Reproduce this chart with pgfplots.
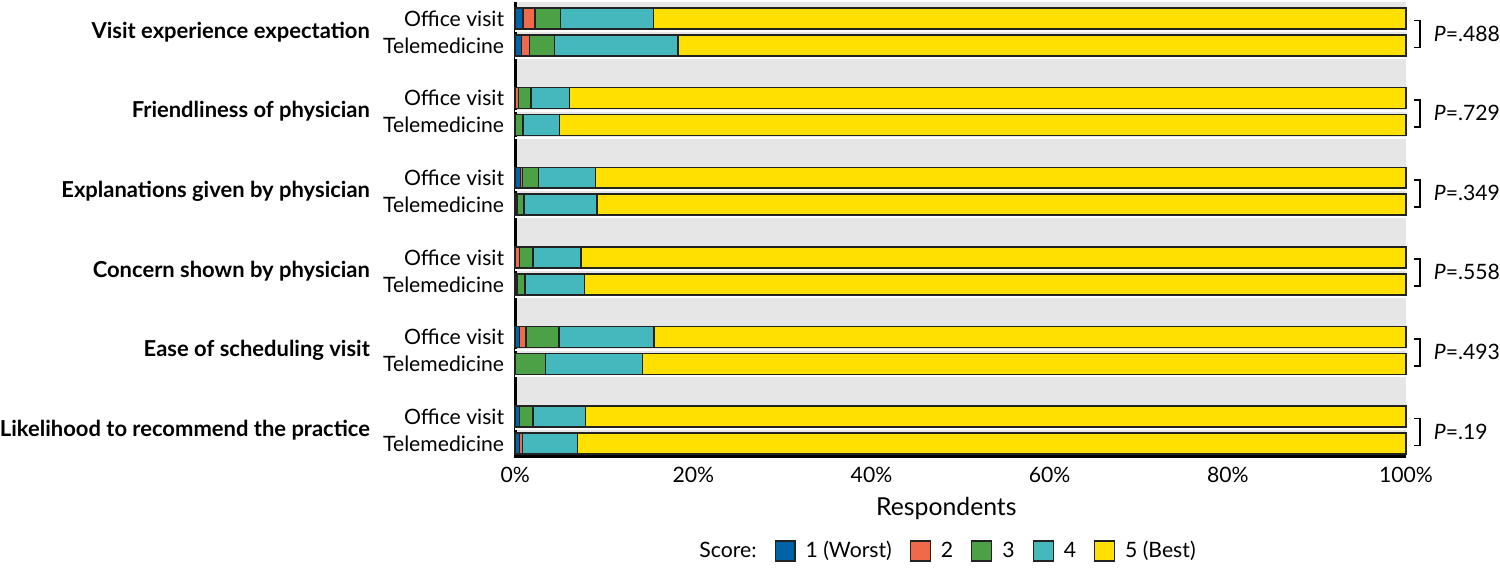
\documentclass[border=0pt]{standalone}
\usepackage{pgfplots}
\pgfplotsset{compat=1.18}
\usepackage{pgfplotstable}
\usepackage{fontspec}
\setmainfont{Lato}
\definecolor{c1}{HTML}{0063A6}
\definecolor{c2}{HTML}{EE6A4A}
\definecolor{c3}{HTML}{4CA046}
\definecolor{c4}{HTML}{45B8BE}
\definecolor{c5}{HTML}{FFE000}
\definecolor{bg}{HTML}{E6E6E6}
\definecolor{edge}{HTML}{222222}
\pgfplotstableread{
y s1 s2 s3 s4 s5
17 0.9 1.3 2.9 10.4 84.5
44 0.7 0.9 2.8 13.9 81.7
96.7 0 0.4 1.4 4.3 93.9
123.7 0 0 0.9 4.1 95.0
176.4 0.6 0.2 1.8 6.4 91.0
203.4 0 0.2 0.8 8.2 90.8
256.1 0 0.5 1.5 5.4 92.6
283.1 0.2 0 0.9 6.7 92.2
335.8 0.5 0.7 3.7 10.7 84.4
362.8 0 0 3.4 10.9 85.7
415.5 0.5 0 1.5 5.9 92.1
442.5 0.5 0.3 0 6.2 93.0
}\datatable
\newcommand{\fs}{\fontsize{10.6pt}{12pt}\selectfont}
\newcommand{\pbr}[2]{%
  \draw[black, line width=0.9pt] (axis cs:100.95,#1+2) -- (axis cs:101.6,#1+2) -- (axis cs:101.6,#1+29) -- (axis cs:100.95,#1+29);
  \node[anchor=west, inner sep=0pt, font=\fs] at (axis cs:103.1,#1+15) {\textit{P}=#2};}
\newcommand{\glab}[2]{%
  \node[anchor=east, font=\fontsize{11pt}{13pt}\selectfont\bfseries, inner sep=0pt] at (axis cs:-16.26,#1) {#2};}
\newcommand{\wl}[1]{%
  \draw[white, line width=1pt] (axis cs:0,#1+12.6) -- (axis cs:100,#1+12.6);}
\begin{document}
\begin{tikzpicture}
\begin{axis}[
  scale only axis,
  width=446pt, height=227.5pt,
  xmin=0, xmax=100, ymin=0, ymax=455,
  y dir=reverse,
  xbar stacked,
  bar width=21,
  clip=false,
  axis background/.style={fill=bg},
  axis line style={draw=none},
  major tick length=0pt,
  font=\fs,
  /pgf/number format/assume math mode=true,
  xtick={0,20,40,60,80,100},
  xticklabel={\pgfmathprintnumber{\tick}\%},
  xticklabel style={yshift=-2pt},
  ytick={17,44,96.7,123.7,176.4,203.4,256.1,283.1,335.8,362.8,415.5,442.5},
  yticklabels={Office visit,Telemedicine,Office visit,Telemedicine,Office visit,Telemedicine,Office visit,Telemedicine,Office visit,Telemedicine,Office visit,Telemedicine},
  yticklabel style={xshift=-2pt},
  xlabel={Respondents},
  xlabel style={font=\fontsize{12.4pt}{14pt}\selectfont, at={(axis description cs:0.484,-0.1165)}, anchor=center},
  legend style={at={(axis description cs:0.482,-0.209)}, anchor=center, draw=none, fill=none,
    legend columns=-1, font=\fs,
    /tikz/every odd column/.append style={column sep=3pt},
    /tikz/every even column/.append style={column sep=7pt}},
  legend image code/.code={\draw[#1, line width=0.6pt] (0pt,-5pt) rectangle (10pt,5pt);},
  every axis plot/.append style={draw=edge, line width=0.75pt},
]
\wl{17}\wl{44}\wl{96.7}\wl{123.7}\wl{176.4}\wl{203.4}\wl{256.1}\wl{283.1}\wl{335.8}\wl{362.8}\wl{415.5}
\addlegendimage{empty legend}
\addlegendentry{Score:}
\addplot[fill=c1] table[x=s1, y=y] {\datatable};
\addlegendentry{1 (Worst)}
\addplot[fill=c2] table[x=s2, y=y] {\datatable};
\addlegendentry{2}
\addplot[fill=c3] table[x=s3, y=y] {\datatable};
\addlegendentry{3}
\addplot[fill=c4] table[x=s4, y=y] {\datatable};
\addlegendentry{4}
\addplot[fill=c5] table[x=s5, y=y] {\datatable};
\addlegendentry{5 (Best)}
% axis lines
\draw[black, line width=1.6pt] (axis cs:0,0) -- (axis cs:0,455) -- (axis cs:100,455);
% group labels
\glab{30.5}{Visit experience expectation}
\glab{110.2}{Friendliness of physician}
\glab{189.9}{Explanations given by physician}
\glab{269.6}{Concern shown by physician}
\glab{349.3}{Ease of scheduling visit}
\glab{429.0}{Likelihood to recommend the practice}
% p-value brackets
\pbr{17}{.488}
\pbr{96.7}{.729}
\pbr{176.4}{.349}
\pbr{256.1}{.558}
\pbr{335.8}{.493}
\pbr{415.5}{.19}
% bounding box
\path (axis cs:-57.74,0) rectangle (axis cs:110.43,563);
\end{axis}
\end{tikzpicture}
\end{document}
